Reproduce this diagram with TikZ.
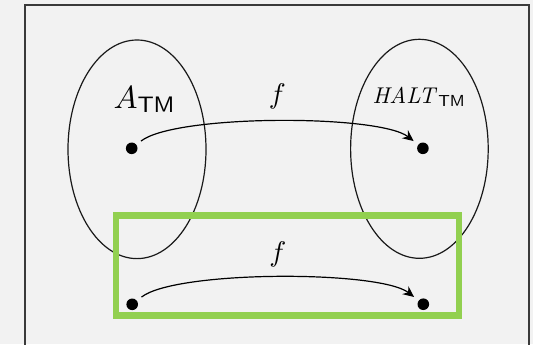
\documentclass[tikz,border=0pt]{standalone}
\usepackage{graphicx}
\usetikzlibrary{arrows.meta}
\definecolor{bggray}{HTML}{F2F2F2}
\definecolor{framegray}{HTML}{3A3A3A}
\definecolor{boxgreen}{HTML}{92D050}
\tikzset{
  dotnode/.style={circle,fill=black,inner sep=0pt,minimum size=5.8pt,outer sep=3pt},
  setellipse/.style={draw=black!90,line width=0.6pt},
  maparrow/.style={-{Stealth[length=5.5pt,width=5pt,inset=1.8pt]},line width=0.6pt,out=38,in=142,looseness=0.41},
  lbl/.style={inner sep=0pt,outer sep=0pt}
}
\begin{document}
\begin{tikzpicture}[x=0.5pt,y=-0.5pt]
\useasboundingbox (0,0) rectangle (533,344);
\fill[bggray] (0,0) rectangle (533,344);
\draw[framegray,line width=0.8pt] (25,360) -- (25,5) -- (529,5) -- (529,360);
% sets
\draw[setellipse] (137,149.3) ellipse [x radius=69, y radius=109.3];
\draw[setellipse] (419.4,148.8) ellipse [x radius=68.8, y radius=109.5];
% green box
\draw[boxgreen,line width=3.2pt] (115.7,215.3) rectangle (459,315.3);
% dots
\node[dotnode] (a1) at (131.7,148.3) {};
\node[dotnode] (b1) at (422.9,148.3) {};
\node[dotnode] (a2) at (132.2,304.3) {};
\node[dotnode] (b2) at (423.3,304.2) {};
% labels
\node[lbl,anchor=base west] (la) at (113.5,108) {\scalebox{1.6}{$A_{\mathsf{TM}}$}};
\node[lbl,anchor=base west] (lh) at (372.5,103.3) {\scalebox{1.14}{$\mathit{HALT}_{\mathsf{TM}}$}};
% arrows
\draw[maparrow] (a1) to node[lbl,above=8.9pt,anchor=base] (f1) {\scalebox{1.42}{$f$}} (b1);
\draw[maparrow] (a2) to node[lbl,above=7.7pt,anchor=base] (f2) {\scalebox{1.42}{$f$}} (b2);
\end{tikzpicture}
\end{document}
